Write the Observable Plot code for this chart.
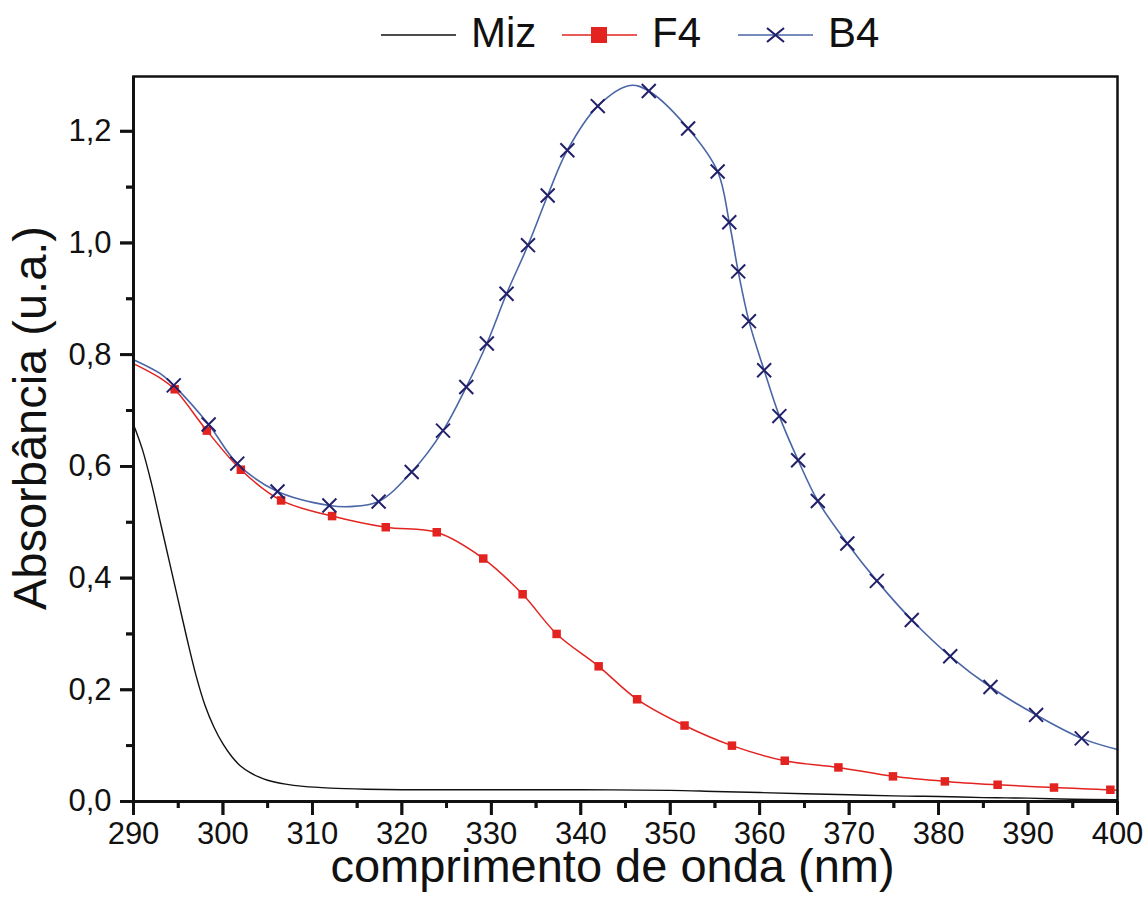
<!DOCTYPE html>
<html>
<head>
<meta charset="utf-8">
<script src="https://cdn.jsdelivr.net/npm/d3@7"></script>
<script src="https://cdn.jsdelivr.net/npm/@observablehq/plot@0.6"></script>
<style>
  html, body { margin: 0; padding: 0; background: #fff; }
  #wrap { position: relative; width: 1144px; height: 911px; font-family: "Liberation Sans", Arial, Helvetica, sans-serif; }
  #legend { position: absolute; left: 0; top: 0; width: 1144px; height: 70px; pointer-events: none; }
  #legend .item { position: absolute; top: 8px; display: flex; align-items: center; font-size: 42px; color: #111; }
  #legend svg { display: block; margin-right: 14px; }
</style>
</head>
<body>
<div id="wrap">
  <div id="chart"></div>
  <div id="legend"></div>
</div>
<script>
// ---- Data ----
// Miz (black line, no markers)
const mizWl  = [290, 291, 292, 293, 294, 295, 296, 297, 298, 299, 300, 301, 302, 303, 304, 305, 307, 309, 312, 316, 320, 330, 340, 350, 355, 360, 365, 370, 375, 380, 385, 390, 395, 400];
const mizAbs = [0.675, 0.63, 0.57, 0.50, 0.43, 0.36, 0.29, 0.225, 0.172, 0.133, 0.103, 0.080, 0.063, 0.052, 0.044, 0.038, 0.031, 0.027, 0.024, 0.022, 0.021, 0.021, 0.021, 0.020, 0.018, 0.016, 0.014, 0.012, 0.010, 0.009, 0.007, 0.006, 0.004, 0.003];

// F4 (red line with square markers)
const f4Wl  = [290, 293, 294.6, 298.2, 302.0, 306.5, 312.2, 318.2, 323.9, 329.1, 333.5, 337.3, 342.0, 346.3, 351.6, 356.9, 362.8, 368.8, 374.9, 380.7, 386.6, 392.9, 399.2, 400];
const f4Abs = [0.784, 0.758, 0.738, 0.664, 0.594, 0.539, 0.511, 0.491, 0.482, 0.435, 0.371, 0.300, 0.242, 0.183, 0.136, 0.100, 0.073, 0.061, 0.045, 0.036, 0.030, 0.025, 0.021, 0.020];
const f4MarkWl  = [294.6, 298.2, 302.0, 306.5, 312.2, 318.2, 323.9, 329.1, 333.5, 337.3, 342.0, 346.3, 351.6, 356.9, 362.8, 368.8, 374.9, 380.7, 386.6, 392.9, 399.2];
const f4MarkAbs = [0.738, 0.664, 0.594, 0.539, 0.511, 0.491, 0.482, 0.435, 0.371, 0.300, 0.242, 0.183, 0.136, 0.100, 0.073, 0.061, 0.045, 0.036, 0.030, 0.025, 0.021];

// B4 (blue line with x markers)
const b4Wl  = [290, 293, 294.5, 298.4, 301.6, 306.1, 311.9, 314.2, 317.4, 321.1, 324.6, 327.2, 329.5, 331.7, 334.1, 336.3, 338.5, 341.9, 345.5, 347.6, 352.0, 355.3, 356.6, 357.6, 358.8, 360.5, 362.2, 364.3, 366.5, 369.8, 373.1, 377.0, 381.3, 385.8, 390.9, 396.0, 400];
const b4Abs = [0.791, 0.766, 0.745, 0.675, 0.605, 0.555, 0.530, 0.528, 0.537, 0.590, 0.664, 0.742, 0.820, 0.909, 0.996, 1.085, 1.166, 1.245, 1.282, 1.272, 1.205, 1.128, 1.037, 0.949, 0.860, 0.772, 0.690, 0.611, 0.538, 0.462, 0.395, 0.325, 0.260, 0.205, 0.155, 0.113, 0.093];
const b4MarkWl  = [294.5, 298.4, 301.6, 306.1, 311.9, 317.4, 321.1, 324.6, 327.2, 329.5, 331.7, 334.1, 336.3, 338.5, 341.9, 347.6, 352.0, 355.3, 356.6, 357.6, 358.8, 360.5, 362.2, 364.3, 366.5, 369.8, 373.1, 377.0, 381.3, 385.8, 390.9, 396.0];
const b4MarkAbs = [0.745, 0.675, 0.605, 0.555, 0.530, 0.537, 0.590, 0.664, 0.742, 0.820, 0.909, 0.996, 1.085, 1.166, 1.245, 1.272, 1.205, 1.128, 1.037, 0.949, 0.860, 0.772, 0.690, 0.611, 0.538, 0.462, 0.395, 0.325, 0.260, 0.205, 0.155, 0.113];

// Axis ticks
const xTicks = [290, 300, 310, 320, 330, 340, 350, 360, 370, 380, 390, 400];
const xMinor = [295, 305, 315, 325, 335, 345, 355, 365, 375, 385, 395];
const yTicks = [0, 0.2, 0.4, 0.6, 0.8, 1.0, 1.2];
const yMinor = [0.1, 0.3, 0.5, 0.7, 0.9, 1.1];

const seriesNames = ["Miz", "F4", "B4"];
const colors = { Miz: "#111111", F4: "#e3231f", B4: "#4a66a6", B4mark: "#22206a" };

// ---- Build tables ----
const zip = (xs, ys) => xs.map((x, i) => ({ x, y: ys[i] }));
const miz = zip(mizWl, mizAbs);
const f4 = zip(f4Wl, f4Abs);
const f4m = zip(f4MarkWl, f4MarkAbs);
const b4 = zip(b4Wl, b4Abs);
const b4m = zip(b4MarkWl, b4MarkAbs);

const fmtY = d => d.toFixed(1).replace(".", ",");

const W = 1144, H = 911, mT = 76, mL = 133, mR = 27, mB = 110;
const xDom = [290, 400], yDom = [0, 1.298];
// tick lengths (px) expressed in scale units so the ticks go through the scales
const pxX = (xDom[1] - xDom[0]) / (W - mL - mR);
const pxY = (yDom[1] - yDom[0]) / (H - mT - mB);
const ink = "#111111";

const plot = Plot.plot({
  width: W,
  height: H,
  marginTop: mT,
  marginLeft: mL,
  marginRight: mR,
  marginBottom: mB,
  style: { fontFamily: '"Liberation Sans", Arial, Helvetica, sans-serif' },
  x: { domain: xDom },
  y: { domain: yDom },
  marks: [
    Plot.line(miz, { x: "x", y: "y", stroke: colors.Miz, strokeWidth: 1.4, curve: "catmull-rom" }),
    Plot.line(f4, { x: "x", y: "y", stroke: colors.F4, strokeWidth: 1.5, curve: "catmull-rom" }),
    Plot.line(b4, { x: "x", y: "y", stroke: colors.B4, strokeWidth: 1.6, curve: "catmull-rom" }),
    Plot.dot(f4m, { x: "x", y: "y", symbol: "square", r: 4.8, fill: colors.F4, stroke: "none" }),
    Plot.dot(b4m, { x: "x", y: "y", symbol: "times", r: 6.4, stroke: colors.B4mark, strokeWidth: 2 }),
    Plot.frame({ stroke: ink, strokeWidth: 2.5 }),
    // axes: major ticks with labels, minor ticks without
    Plot.axisX({ ticks: xTicks, tickSize: 14, tickPadding: 6, tickFormat: d => String(d), fontSize: 31, stroke: ink, fill: ink, strokeWidth: 2.8, label: null }),
    Plot.axisX({ ticks: xMinor, tickSize: 7, tickFormat: () => "", stroke: ink, strokeWidth: 2.8, label: null }),
    Plot.axisY({ ticks: yTicks, tickSize: 13, tickPadding: 9, tickFormat: fmtY, fontSize: 31, stroke: ink, fill: ink, strokeWidth: 2.8, label: null }),
    Plot.axisY({ ticks: yMinor, tickSize: 7, tickFormat: () => "", stroke: ink, strokeWidth: 2.8, label: null }),
    // the same outward ticks again as rules through the scales (guaranteed visible)
    Plot.ruleX(xTicks, { x: d => d, y1: yDom[0], y2: yDom[0] - 14 * pxY, stroke: ink, strokeWidth: 2.8 }),
    Plot.ruleX(xMinor, { x: d => d, y1: yDom[0], y2: yDom[0] - 7 * pxY, stroke: ink, strokeWidth: 2.8 }),
    Plot.ruleY(yTicks, { y: d => d, x1: xDom[0], x2: xDom[0] - 13 * pxX, stroke: ink, strokeWidth: 2.8 }),
    Plot.ruleY(yMinor, { y: d => d, x1: xDom[0], x2: xDom[0] - 7 * pxX, stroke: ink, strokeWidth: 2.8 }),
    Plot.ruleX([xDom[0]], { stroke: ink, strokeWidth: 3 }),
    Plot.ruleY([yDom[0]], { stroke: ink, strokeWidth: 3 }),
    Plot.text(["comprimento de onda (nm)"], { frameAnchor: "bottom", lineAnchor: "bottom", dx: -13, dy: 80, fontSize: 47, fill: ink }),
    Plot.text(["Absorbância (u.a.)"], { frameAnchor: "left", textAnchor: "middle", lineAnchor: "middle", rotate: -90, dx: -103, dy: -21, fontSize: 47, fill: ink })
  ]
});
document.getElementById("chart").appendChild(plot);

// ---- Legend (HTML, above the plot area) ----
const legend = document.getElementById("legend");
const legendPos = { Miz: 381, F4: 562, B4: 738 };
for (const name of seriesNames) {
  const item = document.createElement("div");
  item.className = "item";
  item.style.left = legendPos[name] + "px";
  const s = d3.create("svg").attr("width", 76).attr("height", 50);
  const col = colors[name];
  s.append("line").attr("x1", 0).attr("x2", 75).attr("y1", 27).attr("y2", 27).attr("stroke", col).attr("stroke-width", 1.5);
  if (name === "F4") {
    s.append("rect").attr("x", 29).attr("y", 19).attr("width", 16).attr("height", 16).attr("fill", colors.F4);
  }
  if (name === "B4") {
    s.append("path").attr("d", "M29,20L46,34M29,34L46,20").attr("stroke", colors.B4mark).attr("stroke-width", 2.2);
  }
  item.appendChild(s.node());
  const t = document.createElement("span");
  t.textContent = name;
  item.appendChild(t);
  legend.appendChild(item);
}
</script>
</body>
</html>
